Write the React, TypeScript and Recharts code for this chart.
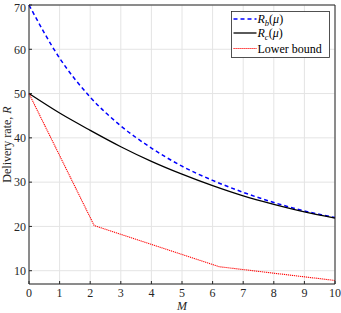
import { CartesianGrid, Legend, Line, LineChart, XAxis, YAxis } from "recharts";

// cache size M, sampled at integers for the two rate curves
const mValues = [0, 1, 2, 3, 4, 5, 6, 7, 8, 9, 10];
const rbValues = [70, 58.0, 49.2, 42.7, 37.7, 33.6, 30.4, 27.7, 25.4, 23.5, 22.0];
const rcValues = [50, 45.6, 41.7, 38.0, 34.7, 31.8, 29.2, 26.9, 25.0, 23.3, 21.9];

// lower bound is piecewise linear, corner points only
const lbM = [0, 2.13, 6.22, 10];
const lbValues = [50, 20.2, 10.9, 7.8];

const xTicks = [0, 1, 2, 3, 4, 5, 6, 7, 8, 9, 10];
const yTicks = [10, 20, 30, 40, 50, 60, 70];

const rbData = mValues.map((m, i) => ({ m, r: rbValues[i] }));
const rcData = mValues.map((m, i) => ({ m, r: rcValues[i] }));
const lbData = lbM.map((m, i) => ({ m, r: lbValues[i] }));

const FONT = "Liberation Serif, DejaVu Serif, serif";
const AXIS = "#262626";
const txt = { fontFamily: FONT };

function LegendBox() {
  return (
    <svg width={99} height={47} style={{ display: "block" }}>
      <rect x={0.5} y={0.5} width={98} height={46} fill="#fff" stroke={AXIS} strokeWidth={0.8} />
      <line x1={2.5} x2={25.5} y1={8} y2={8} stroke="#0000ff" strokeWidth={1.5} strokeDasharray="4 3" />
      <line x1={2.5} x2={25.5} y1={22} y2={22} stroke="#000" strokeWidth={1.3} />
      <line x1={2.5} x2={25.5} y1={37.5} y2={37.5} stroke="#ff0000" strokeWidth={1.1} strokeDasharray="1.2 0.8" />
      <g fontFamily={FONT} fontSize={12} fill="#000">
        <text x={26.5} y={12}>
          <tspan fontStyle="italic">R</tspan>
          <tspan fontStyle="italic" fontSize={8.5} dy={2.5}>b</tspan>
          <tspan dy={-2.5}>(</tspan>
          <tspan fontStyle="italic">μ</tspan>
          <tspan>)</tspan>
        </text>
        <text x={26.5} y={26}>
          <tspan fontStyle="italic">R</tspan>
          <tspan fontStyle="italic" fontSize={8.5} dy={2.5}>c</tspan>
          <tspan dy={-2.5}>(</tspan>
          <tspan fontStyle="italic">μ</tspan>
          <tspan>)</tspan>
        </text>
        <text x={26.5} y={41.5}>Lower bound</text>
      </g>
    </svg>
  );
}

export default function App() {
  const tickStyle = { fill: AXIS, fontSize: 12, fontFamily: FONT };
  return (
    <div style={{ position: "absolute", left: 0, top: 0, background: "#fff", fontFamily: FONT }}>
      <LineChart width={341} height={313} margin={{ top: 0, right: 0, bottom: 0, left: 0 }}>
        <CartesianGrid stroke="#e4e4e4" strokeWidth={1} />
        <XAxis
          dataKey="m"
          type="number"
          domain={[0, 10]}
          ticks={xTicks}
          height={29}
          tick={tickStyle}
          tickSize={-3}
          tickMargin={7}
          tickLine={{ stroke: AXIS }}
          axisLine={{ stroke: AXIS }}
          label={({ viewBox }: any) => (
            <text
              x={viewBox.x + viewBox.width / 2}
              y={viewBox.y + 26}
              textAnchor="middle"
              fontFamily={FONT}
              fontSize={12}
              fontStyle="italic"
              fill={AXIS}
            >
              M
            </text>
          )}
        />
        <XAxis
          xAxisId="top"
          orientation="top"
          dataKey="m"
          type="number"
          domain={[0, 10]}
          ticks={xTicks}
          height={5}
          tick={false}
          tickSize={-3}
          tickLine={{ stroke: AXIS }}
          axisLine={{ stroke: AXIS }}
        />
        <YAxis
          type="number"
          domain={[7, 70]}
          ticks={yTicks}
          width={29}
          tick={tickStyle}
          tickSize={-3}
          tickMargin={6}
          tickLine={{ stroke: AXIS }}
          axisLine={{ stroke: AXIS }}
          label={({ viewBox }: any) => {
            const cx = viewBox.x + 7;
            const cy = viewBox.y + viewBox.height / 2;
            return (
              <text
                x={cx}
                y={cy}
                transform={`rotate(-90 ${cx} ${cy})`}
                textAnchor="middle"
                dominantBaseline="central"
                fontFamily={FONT}
                fontSize={12}
                fill={AXIS}
              >
                Delivery rate, <tspan fontStyle="italic">R</tspan>
              </text>
            );
          }}
        />
        <YAxis
          yAxisId="right"
          orientation="right"
          type="number"
          domain={[7, 70]}
          ticks={yTicks}
          width={6}
          tick={false}
          tickSize={-3}
          tickLine={{ stroke: AXIS }}
          axisLine={{ stroke: AXIS }}
        />
        <Line
          data={rbData}
          dataKey="r"
          type="monotone"
          stroke="#0000ff"
          strokeWidth={1.5}
          strokeDasharray="4 3"
          dot={false}
          activeDot={false}
          isAnimationActive={false}
        />
        <Line
          data={rcData}
          dataKey="r"
          type="monotone"
          stroke="#000000"
          strokeWidth={1.3}
          dot={false}
          activeDot={false}
          isAnimationActive={false}
        />
        <Line
          data={lbData}
          dataKey="r"
          type="linear"
          stroke="#ff0000"
          strokeWidth={1.1}
          strokeDasharray="1.2 0.8"
          dot={false}
          activeDot={false}
          isAnimationActive={false}
        />
        <Legend
          layout="vertical"
          align="center"
          verticalAlign="middle"
          content={() => <LegendBox />}
          wrapperStyle={{ position: "absolute", left: 231, top: 11, width: 99, height: 47 }}
        />
      </LineChart>
    </div>
  );
}
